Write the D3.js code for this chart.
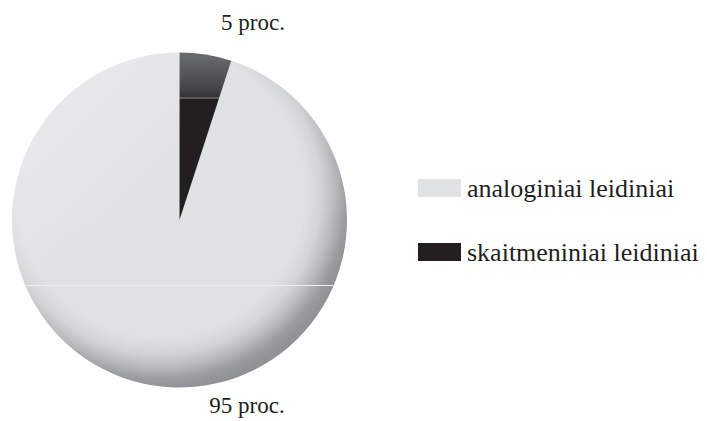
<!DOCTYPE html>
<html><head><meta charset="utf-8">
<script src="https://cdn.jsdelivr.net/npm/d3@7/dist/d3.min.js"></script>
<style>body{margin:0;background:#fff}svg{display:block}</style>
</head><body>
<script>
const categories = ["analoginiai leidiniai", "skaitmeniniai leidiniai"];
const values = [95, 5];
const valueLabels = ["95 proc.", "5 proc."];
const colors = ["#e1e2e4", "#231f20"];

const W = 707, H = 421;
const cx = 179.5, cy = 220, R = 167.5;
const svg = d3.select("body").append("svg").attr("width", W).attr("height", H);
const defs = svg.append("defs");

const rg = defs.append("radialGradient").attr("id", "lightGrad")
  .attr("gradientUnits", "userSpaceOnUse")
  .attr("cx", -20).attr("cy", -28).attr("r", R * 1.2)
  .attr("fx", -20).attr("fy", -28);
[[0, "#e1e2e4"], [0.72, "#e0e1e3"], [0.8, "#d4d5d7"], [0.87, "#b9babd"], [0.93, "#9c9da0"], [0.97, "#929396"], [1, "#909194"]]
  .forEach(([o, c]) => rg.append("stop").attr("offset", o).attr("stop-color", c));

const hl = defs.append("linearGradient").attr("id", "hilite")
  .attr("gradientUnits", "userSpaceOnUse")
  .attr("x1", -R).attr("y1", -R).attr("x2", R).attr("y2", R);
hl.append("stop").attr("offset", 0).attr("stop-color", "#fff").attr("stop-opacity", 0.4);
hl.append("stop").attr("offset", 0.4).attr("stop-color", "#fff").attr("stop-opacity", 0);

const dg = defs.append("linearGradient").attr("id", "darkGrad")
  .attr("gradientUnits", "userSpaceOnUse")
  .attr("x1", 0).attr("y1", -R).attr("x2", 0).attr("y2", R);
const yOff = y => (y - (cy - R)) / (2 * R);
[[53, "#6b6c6e"], [85, "#4a4a4c"], [96.5, "#363436"], [97, "#5a595a"], [98.5, "#5a595a"], [99, "#231f20"], [388, "#231f20"]]
  .forEach(([y, c]) => dg.append("stop").attr("offset", yOff(y)).attr("stop-color", c));

const fills = ["url(#lightGrad)", "url(#darkGrad)"];

const pie = d3.pie().sort((a, b) => a.i === 1 ? -1 : b.i === 1 ? 1 : 0).value(d => d.v);
const data = values.map((v, i) => ({ v, i }));
const arcs = pie(data);
const arc = d3.arc().innerRadius(0).outerRadius(R);

const g = svg.append("g").attr("transform", `translate(${cx},${cy})`);
g.selectAll("path.slice").data(arcs).enter().append("path")
  .attr("class", "slice").attr("d", arc)
  .attr("fill", d => fills[d.data.i]);

g.append("path").attr("d", arc(arcs.find(a => a.data.i === 0)))
  .attr("fill", "url(#hilite)");

defs.append("clipPath").attr("id", "pieClip").append("circle").attr("cx", cx).attr("cy", cy).attr("r", R);
svg.append("line").attr("x1", cx - R).attr("x2", cx + R).attr("y1", 285.5).attr("y2", 285.5)
  .attr("stroke", "#eeeeef").attr("stroke-width", 1).attr("clip-path", "url(#pieClip)");

const font = "'Liberation Serif', 'DejaVu Serif', serif";
svg.append("text").attr("x", 253).attr("y", 30).attr("text-anchor", "middle")
  .attr("font-family", font).attr("font-size", 23).attr("fill", "#231f20").text(valueLabels[1]);
svg.append("text").attr("x", 247).attr("y", 413).attr("text-anchor", "middle")
  .attr("font-family", font).attr("font-size", 23).attr("fill", "#231f20").text(valueLabels[0]);

const legY = [179, 243];
const leg = svg.selectAll("g.leg").data(categories).enter().append("g").attr("class", "leg")
  .attr("transform", (d, i) => `translate(418,${legY[i]})`);
leg.append("rect").attr("width", 43).attr("height", 18).attr("fill", (d, i) => colors[i]);
leg.append("text").attr("x", 49).attr("y", 18).attr("font-family", font)
  .attr("font-size", 26).attr("fill", "#231f20").text(d => d);
</script>
</body></html>
